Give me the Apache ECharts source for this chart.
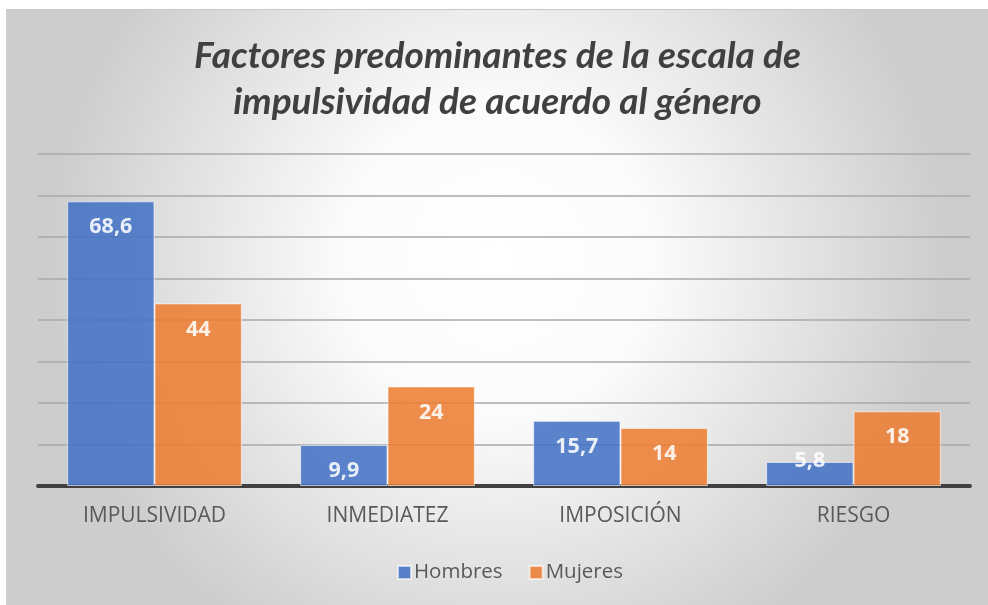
<!DOCTYPE html>
<html><head><meta charset="utf-8">
<script src="https://cdn.jsdelivr.net/npm/echarts@6/dist/echarts.min.js"></script>
<style>
html,body{margin:0;padding:0;background:#fff;width:988px;height:605px;overflow:hidden}
#c{position:absolute;left:6px;top:9px;width:982px;height:596px;border-top:1px solid #c8c8c8;border-left:1px solid #d0d0d0;box-sizing:border-box}
</style></head><body>
<div id="c"></div>
<script>
const categories = ['IMPULSIVIDAD', 'INMEDIATEZ', 'IMPOSICIÓN', 'RIESGO'];
const hombres = [68.6, 9.9, 15.7, 5.8];
const mujeres = [44, 24, 14, 18];
const seriesNames = ['Hombres', 'Mujeres'];
const titleText = 'Factores predominantes de la escala de\nimpulsividad de acuerdo al género';

const chart = echarts.init(document.getElementById('c'), null, {renderer: 'canvas'});
const fmt = p => String(p.value).replace('.', ',');
const lab = {show: true, position: 'insideTop', distance: 15, color: '#fff', fontWeight: 'bold', fontSize: 21.5, fontFamily: 'Open Sans', formatter: fmt};
chart.setOption({
  backgroundColor: {type: 'radial', x: 0.5, y: 0.42, r: 0.75, colorStops: [{offset: 0, color: '#ffffff'}, {offset: 0.35, color: '#fbfbfb'}, {offset: 1, color: '#cdcdcd'}]},
  title: {text: titleText, left: 'center', top: 18, textStyle: {fontFamily: 'Lato', fontStyle: 'italic', fontWeight: 'bold', fontSize: 37, lineHeight: 46, color: '#404040'}},
  legend: {bottom: 17, left: 385, itemWidth: 13, itemHeight: 13, itemGap: 26, icon: 'rect', textStyle: {fontFamily: 'Open Sans', fontSize: 20.5, color: '#595959', padding: [0,0,0,-2]}, data: seriesNames},
  grid: {left: 31, right: 18, top: 144, bottom: 119},
  xAxis: {type: 'category', data: categories, axisTick: {show: false}, axisLine: {lineStyle: {color: '#404040', width: 4}}, axisLabel: {fontFamily: 'Open Sans', fontSize: 21, color: '#595959', margin: 20}},
  yAxis: {type: 'value', min: 0, max: 80, interval: 10, axisLabel: {show: false}, axisLine: {show: false}, axisTick: {show: false}, splitLine: {lineStyle: {color: '#a8a8a8', width: 1.5}}},
  series: [
    {name: seriesNames[0], type: 'bar', data: hombres.map((v, i) => i === 3 ? {value: v, label: {position: 'insideTop', distance: 0, offset: [0, -12]}} : v), barGap: '0%', barCategoryGap: '25%', itemStyle: {color: '#4472C4', opacity: 0.87, borderColor: 'rgba(255,255,255,0.7)', borderWidth: 1}, label: lab},
    {name: seriesNames[1], type: 'bar', data: mujeres, itemStyle: {color: '#ED7D31', opacity: 0.87, borderColor: 'rgba(255,255,255,0.7)', borderWidth: 1}, label: lab}
  ]
});
</script></body></html>
